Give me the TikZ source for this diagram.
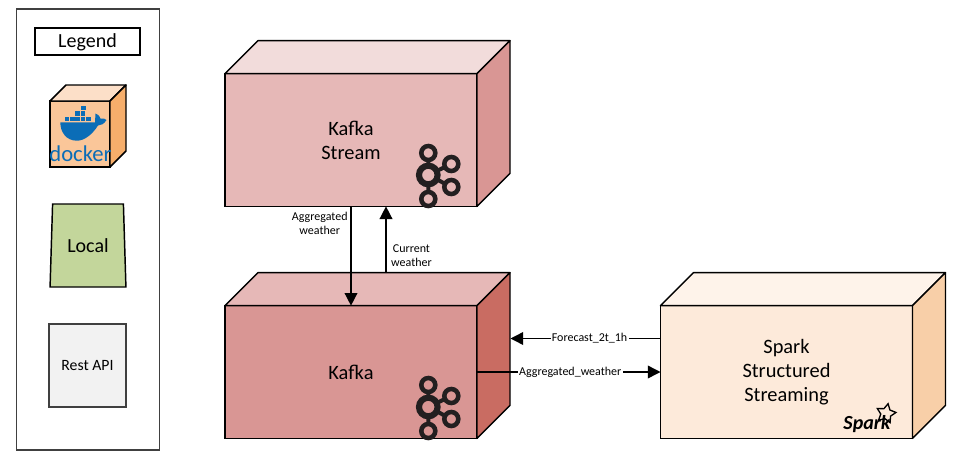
\documentclass[tikz,border=0pt]{standalone}
\usepackage{fontspec}
\setmainfont{Carlito}
\usetikzlibrary{shapes.geometric, arrows.meta, positioning, calc}

\definecolor{streamfront}{HTML}{E6B8B7}
\definecolor{streamtop}{HTML}{F2DCDB}
\definecolor{streamside}{HTML}{D99694}
\definecolor{kafkaside}{HTML}{C96C62}
\definecolor{sparkfront}{HTML}{FDEADA}
\definecolor{sparktop}{HTML}{FEF3EA}
\definecolor{sparkside}{HTML}{F8CFA8}
\definecolor{dockerfront}{HTML}{FAC699}
\definecolor{dockertop}{HTML}{FCDFC8}
\definecolor{dockerside}{HTML}{F6AE6B}
\definecolor{dockerblue}{HTML}{0B6DB7}
\definecolor{localgreen}{HTML}{C3D69B}
\definecolor{restgray}{HTML}{F2F2F2}
\definecolor{logoblack}{HTML}{231F20}

\tikzset{
  cubefront/.style={rectangle, draw, line width=1.1pt, outer sep=0pt, align=center, font=\fontsize{15.3}{18}\selectfont, minimum width=189pt, minimum height=99.5pt},
  legendbox/.style={rectangle, draw=black!75, line width=1.1pt, outer sep=0pt, align=center},
  edgelabel/.style={font=\fontsize{9}{10.5}\selectfont, align=center},
  flow/.style={line width=1.1pt, -{Triangle[length=9.5pt, width=9.5pt]}},
  kafkalogo/.pic={
    \draw[logoblack, line width=3pt] (0,-9) -- (0,-15) (0,9) -- (0,17) (8.3,-4) -- (16.5,-7.9) (8.3,4.3) -- (16.5,8.6);
    \draw[logoblack, line width=3.4pt] (0,-22) circle (7) (0,24) circle (7) (23,-11) circle (7) (23,12) circle (7);
    \draw[logoblack, line width=4.6pt] (0,0) circle (9.3);
  }
}

% top and right faces of a cube, from its front node
\newcommand{\cubefaces}[4]{
  \draw[line width=1.1pt, line join=round, fill=#3] (#1.north west) -- ++(#2,-#2) -- ($(#1.north east)+(#2,-#2)$) -- (#1.north east) -- cycle;
  \draw[line width=1.1pt, line join=round, fill=#4] (#1.north east) -- ++(#2,-#2) -- ($(#1.south east)+(#2,-#2)$) -- (#1.south east) -- cycle;
}

\begin{document}
\begin{tikzpicture}[x=0.75pt, y=-0.75pt]
\useasboundingbox (0,0) rectangle (956,461);

% legend
\node[legendbox, minimum width=107.5pt, minimum height=330.5pt] (legend) at (88,229.5) {};
\node[legendbox, draw=black, minimum width=78.5pt, minimum height=20.5pt, text depth=2pt, font=\fontsize{15}{16}\selectfont] (legendtitle) at (87.5,41.5) {Legend};
\node[rectangle, draw, line width=1.1pt, outer sep=0pt, fill=dockerfront, minimum width=45pt, minimum height=49.5pt] (docker) at (80,134) {};
\cubefaces{docker}{16}{dockertop}{dockerside}
\fill[dockerblue] (60.3,122.3) -- (95,122.3) -- (95.5,113.5) .. controls (99,115) and (100,117) .. (100.5,118.5) .. controls (103,118) and (105,118.5) .. (106.5,120) .. controls (104,124) and (101,125.5) .. (98,125.5) .. controls (92,135) and (84,140.7) .. (77,140.7) .. controls (66,140.7) and (60.3,132) .. (60.3,122.3) -- cycle;
\foreach \px in {64.5,70,75.3,80.6,86} \fill[dockerblue] (\px,116.8) rectangle ++(4.6,4.6);
\foreach \px in {75.3,80.6} \fill[dockerblue] (\px,111.3) rectangle ++(4.6,4.6);
\fill[dockerblue] (81,105.8) rectangle ++(4.6,4.6);
\node[font=\fontsize{17}{17}\selectfont, text=dockerblue, inner sep=0pt] (dockerlogo) at (80.5,154) {docker};
\node[trapezium, draw, line width=1.1pt, fill=localgreen, trapezium stretches=true, trapezium left angle=84, trapezium right angle=84, minimum width=57pt, minimum height=62.25pt, inner sep=0pt, outer sep=0pt, font=\fontsize{15}{16}\selectfont] (local) at (88,245.5) {Local};
\node[legendbox, fill=restgray, minimum width=57.5pt, minimum height=62.25pt, font=\fontsize{11.8}{13}\selectfont] (rest) at (87.5,365.5) {Rest API};

% cubes
\node[cubefront, fill=streamfront] (stream) at (351,140) {Kafka\\Stream};
\node[cubefront, fill=streamside] (kafka) at (351,372) {Kafka};
\node[cubefront, fill=sparkfront] (spark) at (786.5,372) {Spark\\Structured\\Streaming};
\cubefaces{stream}{33}{streamtop}{streamside}
\cubefaces{kafka}{33}{streamfront}{kafkaside}
\cubefaces{spark}{33}{sparktop}{sparkside}

% logos
\pic at (428.3,175) {kafkalogo};
\pic at (428.3,407) {kafkalogo};
\node[star, star points=5, star point ratio=1.9, draw, line width=1pt, minimum size=15pt, inner sep=0pt, rotate=-12] (sparkstar) at (886,413.5) {};
\node[font=\bfseries\itshape\fontsize{15}{15}\selectfont, inner sep=0pt] (sparkword) at (867,424) {Spark};

% connectors
\coordinate (currentstart) at ($(kafka.north)+(35,-33)$);
\coordinate (currentend) at (currentstart |- stream.south);
\coordinate (forecaststart) at ($(spark.west)+(0,-33.5)$);
\coordinate (forecastend) at ($(kafka.east)+(33.5,-33.5)$);
\draw[flow] (stream.south) -- (kafka.north) node[edgelabel, pos=0.17, left=-1.3pt] (aggdown) {Aggregated\\weather};
\draw[flow] (currentstart) -- (currentend) node[edgelabel, pos=0.26, right=0pt] (currentlabel) {Current\\weather};
\draw[flow] (forecaststart) -- (forecastend) node[edgelabel, pos=0.473, fill=white, inner xsep=1pt, inner ysep=0pt] (forecastlabel) {Forecast\_2t\_1h};
\draw[flow] (kafka.east) -- (spark.west) node[edgelabel, pos=0.508, fill=white, inner xsep=1pt, inner ysep=0pt] (agglabel) {Aggregated\_weather};
\end{tikzpicture}
\end{document}
